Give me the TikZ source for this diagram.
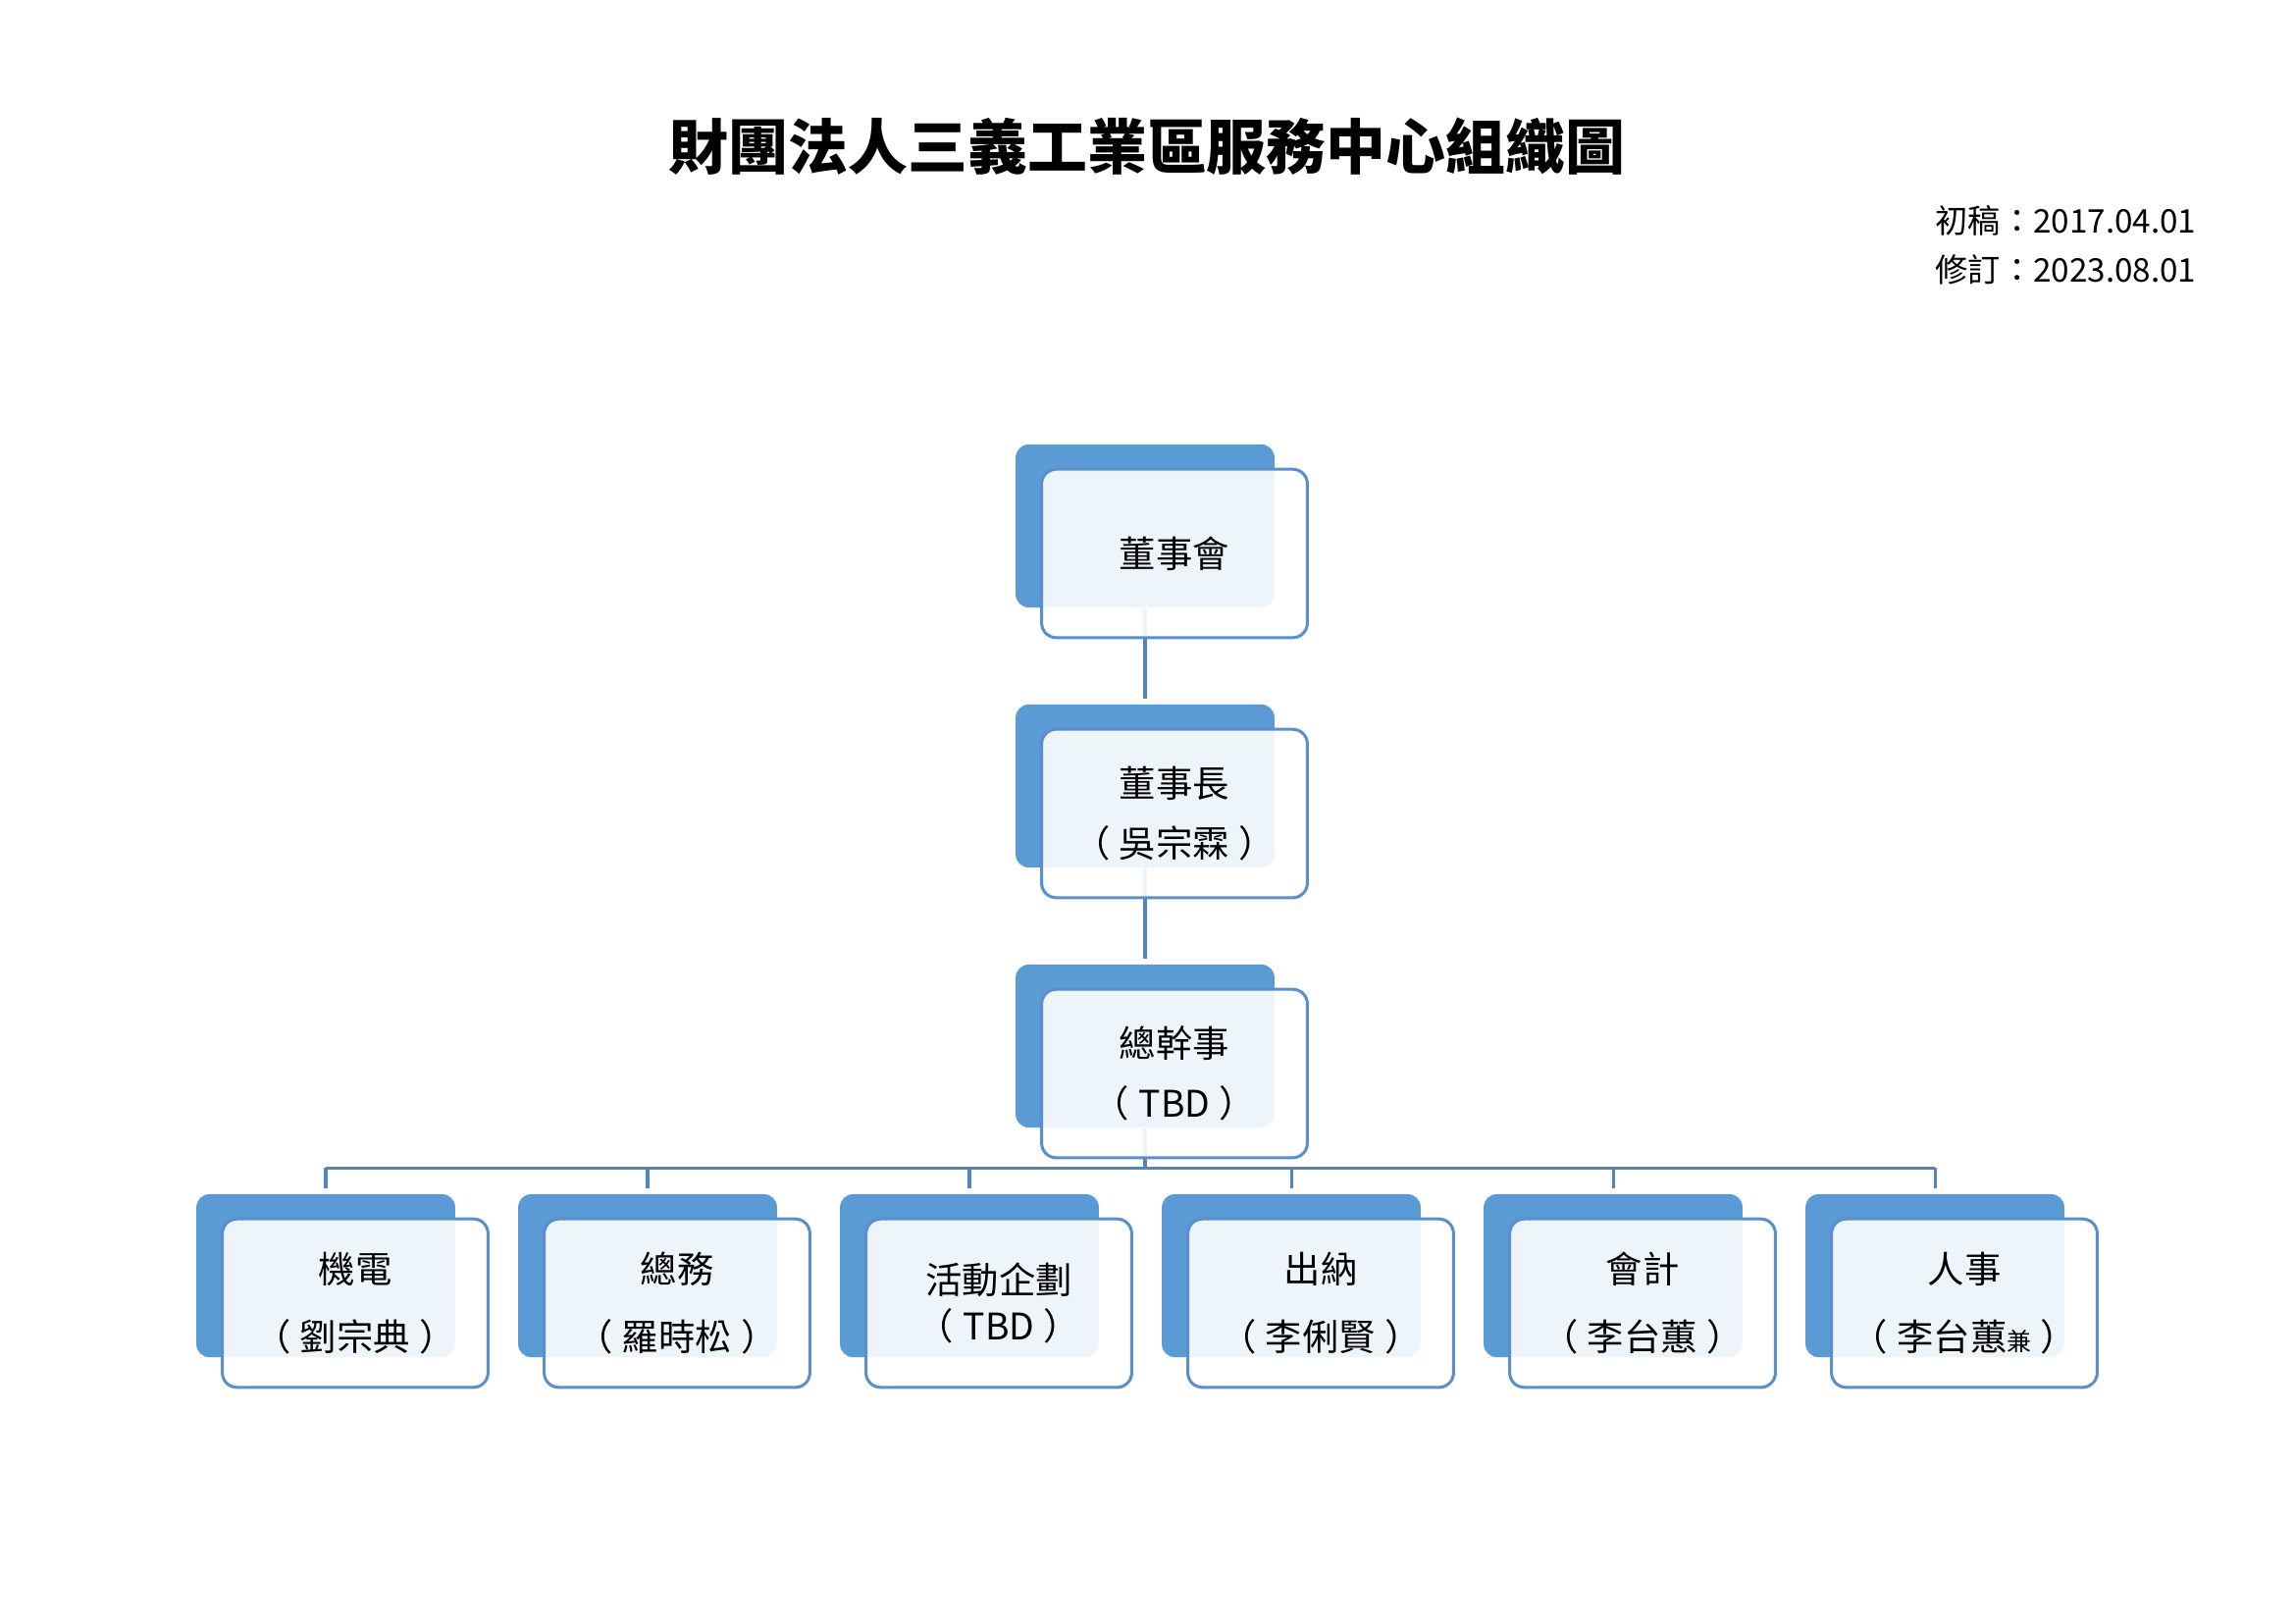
\documentclass[tikz,border=0pt]{standalone}
\usepackage{fontspec}
\setmainfont{Noto Sans CJK TC}
\usepackage{xcolor}
\usepackage{tikz}
\usetikzlibrary{positioning}
\definecolor{boxblue}{RGB}{91,155,213}
\definecolor{edgeblue}{RGB}{90,143,204}
\definecolor{wireblue}{RGB}{80,133,195}
\newcommand{\bracketed}[1]{（\kern1.2mm#1\kern1.2mm）}

\begin{document}
\begin{tikzpicture}[x=0.127mm, y=-0.127mm,
  shadowbox/.style={rectangle, rounded corners=1.7mm, fill=boxblue, minimum width=33.5mm, minimum height=21.1mm},
  cardbox/.style={rectangle, rounded corners=1.9mm, draw=edgeblue, line width=1.1pt, fill=white, fill opacity=0.9, text opacity=1, minimum width=34.4mm, minimum height=21.8mm, align=center, font=\fontsize{13.5}{22}\selectfont},
  rowbox/.style={cardbox, font=\fontsize{13.5}{25}\selectfont},
  wire/.style={draw=wireblue, line width=1.1pt},
  link/.style={wire, shorten >=1.8pt}]
\useasboundingbox (0,0) rectangle (2339,1654);
% title and dates
\node at (1169,149) (title) {\fontsize{22}{26}\selectfont\bfseries 財團法人三義工業區服務中心組織圖};
\node[anchor=east, align=right, font=\fontsize{12}{18}\selectfont] at (2248,250) (dates) {初稿：2017.04.01\\修訂：2023.08.01};
% back plates
\node[shadowbox] at (1167,536) (boardbg) {};
\node[shadowbox] at (1167,801) (chairbg) {};
\node[shadowbox] at (1167,1066) (gmbg) {};
\node[shadowbox] at (332,1300) (mechbg) {};
\node[shadowbox] at (660,1300) (affairsbg) {};
\node[shadowbox] at (988,1300) (eventbg) {};
\node[shadowbox] at (1316,1300) (cashbg) {};
\node[shadowbox] at (1644,1300) (acctbg) {};
\node[shadowbox] at (1972,1300) (hrbg) {};
% connectors
\coordinate (bus) at (1167,1190);
\draw[link] (boardbg) -- (chairbg);
\draw[link] (chairbg) -- (gmbg);
\draw[wire] (gmbg) -- (bus);
\draw[wire] (mechbg |- bus) -- (hrbg |- bus);
\draw[link] (mechbg |- bus) -- (mechbg);
\draw[link] (affairsbg |- bus) -- (affairsbg);
\draw[link] (eventbg |- bus) -- (eventbg);
\draw[link] (cashbg |- bus) -- (cashbg);
\draw[link] (acctbg |- bus) -- (acctbg);
\draw[link] (hrbg |- bus) -- (hrbg);
% front cards
\node[cardbox] at (1197,564) (board) {董事會};
\node[cardbox] at (1197,829) (chair) {董事長\\\bracketed{吳宗霖}};
\node[cardbox] at (1197,1094) (gm) {總幹事\\\bracketed{TBD}};
\node[rowbox] at (362,1328) (mech) {機電\\\bracketed{劉宗典}};
\node[rowbox] at (690,1328) (affairs) {總務\\\bracketed{羅時松}};
\node[cardbox, font=\fontsize{13.5}{17}\selectfont] at (1018,1328) (event) {活動企劃\\\bracketed{TBD}};
\node[rowbox] at (1346,1328) (cash) {出納\\\bracketed{李俐賢}};
\node[rowbox] at (1674,1328) (acct) {會計\\\bracketed{李台蕙}};
\node[rowbox] at (2002,1328) (hr) {人事\\\bracketed{李台蕙{\fontsize{9}{9}\selectfont 兼}}};
\end{tikzpicture}
\end{document}
